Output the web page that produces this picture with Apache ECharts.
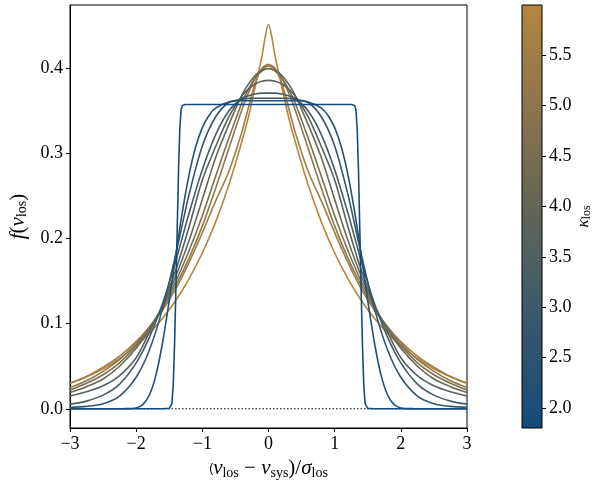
<!DOCTYPE html>
<html><head><meta charset="utf-8">
<script src="https://cdn.jsdelivr.net/npm/echarts@6/dist/echarts.min.js"></script>
<style>html,body{margin:0;padding:0;background:#fff}#c{width:597px;height:485px}</style>
</head><body><div id="c"></div>
<script>
// kurtosis of each curve
const kappas = [1.8, 2.27, 2.73, 3.2, 3.67, 4.13, 4.6, 5.07, 5.53, 6.0];
// shared x grid
const xGrid = [-3,-2.75,-2.5,-2.25,-2,-1.8,-1.6,-1.4,-1.2,-1,-0.8,-0.6,-0.4,-0.3,-0.2,-0.1,0,0.1,0.2,0.3,0.4,0.6,0.8,1,1.2,1.4,1.6,1.8,2,2.25,2.5,2.75,3];
// curve 1 (flat top)
const x1 = [-3,-1.6,-1.5,-1.46,-1.44,-1.42,-1.40,-1.38,-1.36,-1.34,-1.32,-1.30,-1.26,0,1.26,1.30,1.32,1.34,1.36,1.38,1.40,1.42,1.44,1.46,1.5,1.6,3];
const y1 = [0,0,0.0005,0.006,0.028,0.075,0.14,0.21,0.28,0.33,0.352,0.3565,0.3576,0.3576,0.3576,0.3565,0.352,0.33,0.28,0.21,0.14,0.075,0.028,0.006,0.0005,0,0];
// curve 2
const x2 = [-3,-2.5,-2.2,-2,-1.9,-1.8,-1.7,-1.6,-1.5,-1.4,-1.3,-1.2,-1.1,-1,-0.9,-0.8,-0.6,-0.4,0,0.4,0.6,0.8,0.9,1,1.1,1.2,1.3,1.4,1.5,1.6,1.7,1.8,1.9,2,2.2,2.5,3];
const y2 = [0,0,0.0001,0.0010,0.0049,0.0162,0.0398,0.0782,0.1274,0.1816,0.2323,0.2753,0.3079,0.3304,0.3448,0.3534,0.3605,0.362,0.362,0.362,0.3605,0.3534,0.3448,0.3304,0.3079,0.2753,0.2323,0.1816,0.1274,0.0782,0.0398,0.0162,0.0049,0.0010,0.0001,0,0];
const y3 = [0.0016,0.0028,0.006,0.015,0.037,0.069,0.118,0.182,0.252,0.309,0.343,0.360,0.364,0.3648,0.365,0.365,0.365,0.365,0.365,0.3648,0.364,0.360,0.343,0.309,0.252,0.182,0.118,0.069,0.037,0.015,0.006,0.0028,0.0016];
const y4 = [0.0055,0.009,0.016,0.029,0.054,0.084,0.124,0.174,0.230,0.281,0.322,0.350,0.365,0.368,0.370,0.371,0.371,0.371,0.370,0.368,0.365,0.350,0.322,0.281,0.230,0.174,0.124,0.084,0.054,0.029,0.016,0.009,0.0055];
const y5 = [0.015,0.020,0.027,0.039,0.060,0.090,0.122,0.163,0.214,0.269,0.308,0.343,0.368,0.376,0.382,0.385,0.386,0.385,0.382,0.376,0.368,0.343,0.308,0.269,0.214,0.163,0.122,0.090,0.060,0.039,0.027,0.020,0.015];
const y6 = [0.019,0.026,0.035,0.050,0.071,0.093,0.121,0.156,0.198,0.246,0.295,0.334,0.369,0.382,0.392,0.398,0.400,0.398,0.392,0.382,0.369,0.334,0.295,0.246,0.198,0.156,0.121,0.093,0.071,0.050,0.035,0.026,0.019];
const y7 = [0.022,0.030,0.040,0.054,0.074,0.095,0.120,0.150,0.186,0.227,0.273,0.318,0.360,0.376,0.389,0.397,0.400,0.397,0.389,0.376,0.360,0.318,0.273,0.227,0.186,0.150,0.120,0.095,0.074,0.054,0.040,0.030,0.022];
const y8 = [0.025,0.033,0.044,0.058,0.077,0.096,0.118,0.145,0.177,0.215,0.259,0.306,0.352,0.372,0.389,0.399,0.403,0.399,0.389,0.372,0.352,0.306,0.259,0.215,0.177,0.145,0.118,0.096,0.077,0.058,0.044,0.033,0.025];
const y9 = [0.030,0.038,0.049,0.062,0.079,0.096,0.116,0.141,0.172,0.207,0.244,0.279,0.326,0.355,0.383,0.400,0.405,0.400,0.383,0.355,0.326,0.279,0.244,0.207,0.172,0.141,0.116,0.096,0.079,0.062,0.049,0.038,0.030];
// curve 10 (peaked)
const x10 = [-3,-2.75,-2.5,-2.25,-2,-1.8,-1.6,-1.4,-1.2,-1,-0.8,-0.6,-0.4,-0.3,-0.2,-0.1,-0.05,0,0.05,0.1,0.2,0.3,0.4,0.6,0.8,1,1.2,1.4,1.6,1.8,2,2.25,2.5,2.75,3];
const y10 = [0.0300,0.0376,0.0471,0.0591,0.0741,0.0889,0.1064,0.1275,0.1529,0.1831,0.2194,0.263,0.315,0.344,0.379,0.414,0.437,0.452,0.437,0.414,0.379,0.344,0.315,0.263,0.2194,0.1831,0.1529,0.1275,0.1064,0.0889,0.0741,0.0591,0.0471,0.0376,0.0300];
// zero reference line
const zeroX = [-3, 3];
const zeroY = [0, 0];
// tick values
const yTicks = [0, 0.1, 0.2, 0.3, 0.4];
const cbTicks = [2.0, 2.5, 3.0, 3.5, 4.0, 4.5, 5.0, 5.5];
const cbRange = [1.8, 6.0];

const curves = [
  [x1, y1], [x2, y2], [xGrid, y3], [xGrid, y4], [xGrid, y5],
  [xGrid, y6], [xGrid, y7], [xGrid, y8], [xGrid, y9], [x10, y10]
];

const cStops = [[0, [19,75,124]], [0.5, [95,100,89]], [1, [181,133,63]]];
function cmap(t) {
  t = Math.max(0, Math.min(1, t));
  for (let i = 1; i < cStops.length; i++) {
    if (t <= cStops[i][0]) {
      const a = cStops[i-1], b = cStops[i];
      const u = (t - a[0]) / (b[0] - a[0]);
      const c = a[1].map((v, j) => Math.round(v + (b[1][j] - v) * u));
      return 'rgb(' + c.join(',') + ')';
    }
  }
}
const kcol = k => cmap((k - cbRange[0]) / (cbRange[1] - cbRange[0]));

const FONT = 'Liberation Serif';
const rich = {
  i: {fontStyle: 'italic', fontFamily: FONT, fontSize: 21, color: '#000'},
  r: {fontFamily: FONT, fontSize: 21, color: '#000'},
  s: {fontFamily: FONT, fontSize: 14, color: '#000', padding: [9, 0, 0, 0]}
};
const richCb = {
  i: {fontStyle: 'italic', fontFamily: FONT, fontSize: 17, color: '#000'},
  s: {fontFamily: FONT, fontSize: 12, color: '#000', padding: [6, 0, 0, 0]}
};
const fmt = v => (v < 0 ? '\u2212' + Math.abs(v) : String(v));

const series = [];
for (let n = curves.length - 1; n >= 0; n--) {
  const [xs, ys] = curves[n];
  series.push({
    type: 'line', xAxisIndex: 0, yAxisIndex: 0,
    data: xs.map((x, i) => [x, ys[i]]),
    showSymbol: false, smooth: n === 0 ? false : 0.3,
    lineStyle: {color: kcol(kappas[n]), width: 1.6},
    itemStyle: {color: kcol(kappas[n])},
    z: 3 + (curves.length - n), silent: true
  });
}
series.push({
  type: 'line', xAxisIndex: 0, yAxisIndex: 0,
  data: zeroX.map((x, i) => [x, zeroY[i]]), showSymbol: false,
  lineStyle: {color: '#000', width: 1, type: [1.5, 2]}, z: 1, silent: true
});
series.push({
  type: 'custom', xAxisIndex: 1, yAxisIndex: 1, silent: true,
  data: [[0, cbRange[0], 1, cbRange[1]]],
  encode: {x: [0, 2], y: [1, 3]},
  renderItem: function (params, api) {
    const p0 = api.coord([api.value(0), api.value(3)]);
    const p1 = api.coord([api.value(2), api.value(1)]);
    const stops = [];
    for (let i = 0; i <= 20; i++) stops.push({offset: i / 20, color: cmap(i / 20)});
    return {
      type: 'rect',
      shape: {x: p0[0], y: p0[1], width: p1[0] - p0[0], height: p1[1] - p0[1]},
      style: {fill: new echarts.graphic.LinearGradient(0, 1, 0, 0, stops)}
    };
  }
});

const tickFont = {color: '#000', fontFamily: FONT, fontSize: 18};
const chart = echarts.init(document.getElementById('c'), null, {renderer: 'canvas'});
chart.setOption({
  animation: false,
  backgroundColor: '#fff',
  grid: [
    {left: 70, top: 5, width: 397, height: 423, show: true, borderColor: '#000', borderWidth: 1, backgroundColor: 'transparent', containLabel: false, outerBoundsMode: 'none'},
    {left: 522, top: 5, width: 20, height: 423, show: true, borderColor: '#000', borderWidth: 1, backgroundColor: 'transparent', containLabel: false, outerBoundsMode: 'none', z: 5}
  ],
  xAxis: [
    {gridIndex: 0, type: 'value', min: -3, max: 3, interval: 1,
     axisLine: {show: true, onZero: false, lineStyle: {color: '#000', width: 1}},
     axisTick: {show: true, length: 4, lineStyle: {color: '#000'}},
     axisLabel: Object.assign({margin: 7, formatter: fmt}, tickFont),
     splitLine: {show: false},
     name: '({i|v}{s|los}{r| \u2212 }{i|v}{s|sys}{r|)/}{i|\u03c3}{s|los}', nameLocation: 'middle', nameGap: 28,
     nameTextStyle: {rich: rich}},
    {gridIndex: 1, type: 'value', min: 0, max: 1, show: false}
  ],
  yAxis: [
    {gridIndex: 0, type: 'value', min: -0.0226, max: 0.4746,
     axisLine: {show: true, onZero: false, lineStyle: {color: '#000', width: 1}},
     axisTick: {show: true, length: 4, lineStyle: {color: '#000'}, customValues: yTicks},
     axisLabel: Object.assign({margin: 7, customValues: yTicks, formatter: v => v.toFixed(1)}, tickFont),
     splitLine: {show: false},
     name: '{i|f}{r|(}{i|v}{s|los}{r|)}', nameLocation: 'middle', nameGap: 38, nameRotate: 90,
     nameTextStyle: {rich: rich}},
    {gridIndex: 1, type: 'value', min: cbRange[0], max: cbRange[1], position: 'right',
     axisLine: {show: false, onZero: false},
     axisTick: {show: true, length: 4, lineStyle: {color: '#000'}, customValues: cbTicks},
     axisLabel: Object.assign({margin: 7, customValues: cbTicks, formatter: v => v.toFixed(1)}, tickFont),
     splitLine: {show: false},
     name: '{i|\u03ba}{s|los}', nameLocation: 'middle', nameGap: 33, nameRotate: 90,
     nameTextStyle: {rich: richCb}}
  ],
  series: series
});
</script></body></html>
